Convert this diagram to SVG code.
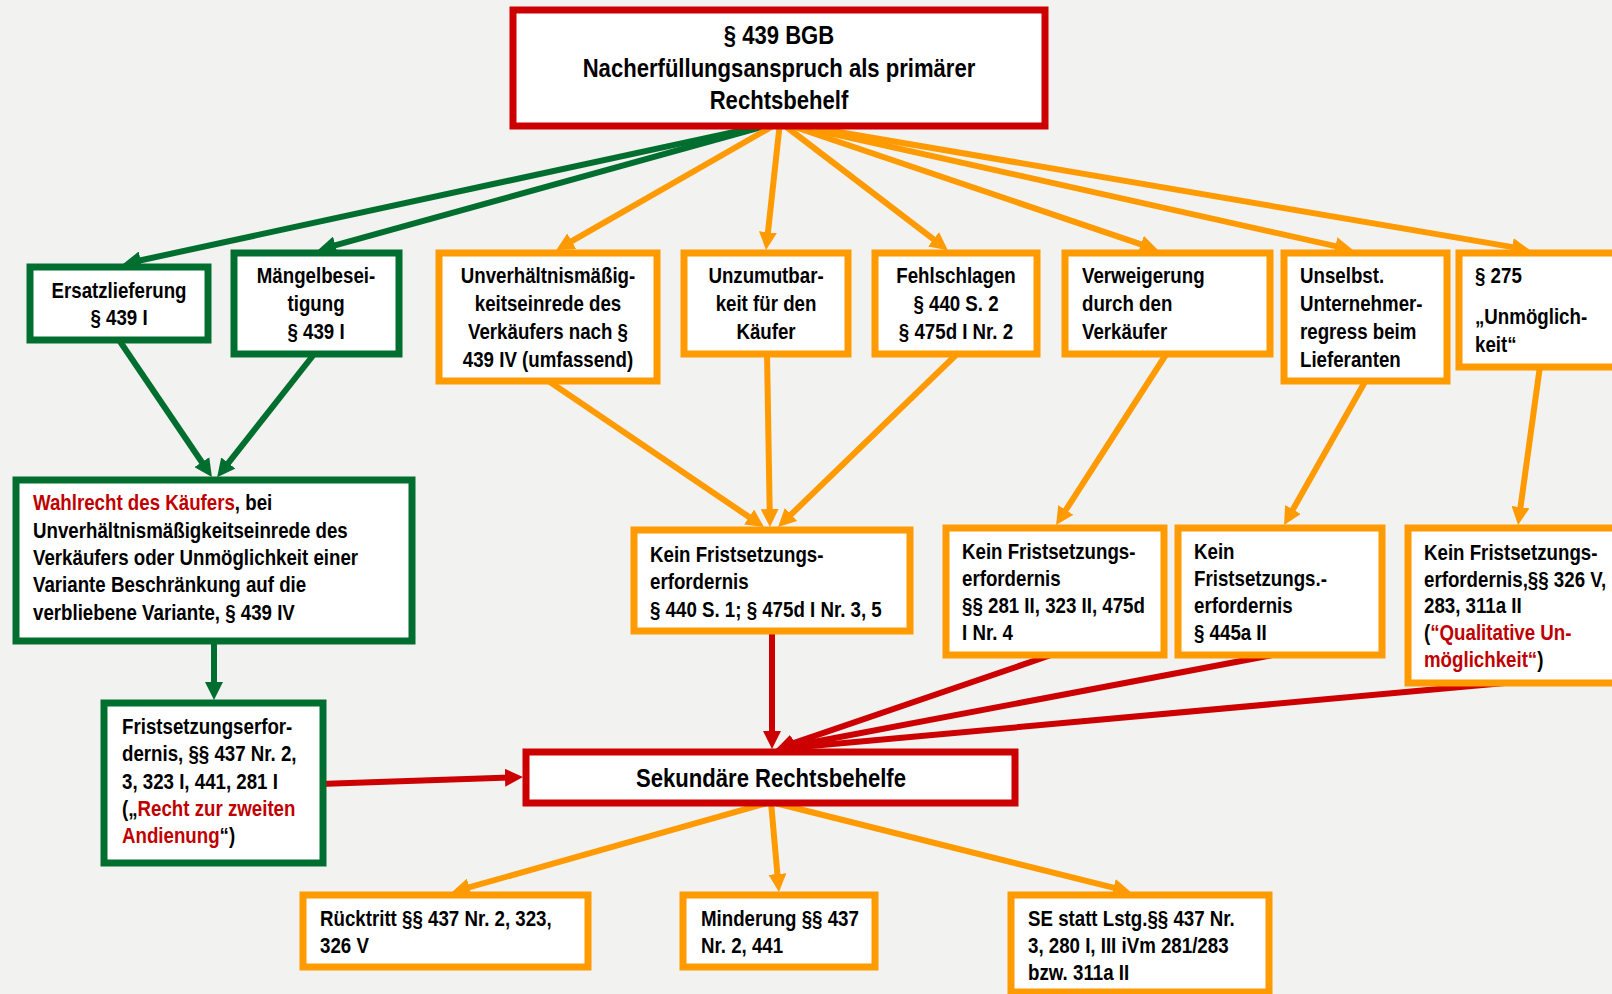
<svg xmlns="http://www.w3.org/2000/svg" width="1612" height="994" viewBox="0 0 1612 994">
<style>
.bg{fill:#F2F2F0}
.box{fill:#FFFFFF;stroke-width:7}
.red{stroke:#CC0000}
.grn{stroke:#006E2E}
.org{stroke:#FF9A00}
.t{font-family:"Liberation Sans",Arial,sans-serif;font-weight:bold;font-size:22px;fill:#000}
.w{font-family:"Liberation Sans",Arial,sans-serif;font-weight:bold;font-size:26px;fill:#000}
.c{text-anchor:middle}
.hl{fill:#C00000}
.ln{fill:none;stroke-width:6}
.lg{stroke:#006E2E;marker-end:url(#ag)}
.lo{stroke:#FF9A00;marker-end:url(#ao)}
.lr{stroke:#CC0000;marker-end:url(#ar)}
</style>
<defs>
<marker id="ag" viewBox="0 0 18 18" refX="8" refY="9" markerWidth="18" markerHeight="18" markerUnits="userSpaceOnUse" orient="auto"><path d="M0,0 L18,9 L0,18 Z" fill="#006E2E"/></marker>
<marker id="ao" viewBox="0 0 18 18" refX="8" refY="9" markerWidth="18" markerHeight="18" markerUnits="userSpaceOnUse" orient="auto"><path d="M0,0 L18,9 L0,18 Z" fill="#FF9A00"/></marker>
<marker id="ar" viewBox="0 0 18 18" refX="8" refY="9" markerWidth="18" markerHeight="18" markerUnits="userSpaceOnUse" orient="auto"><path d="M0,0 L18,9 L0,18 Z" fill="#CC0000"/></marker>
</defs>
<rect class="bg" x="0" y="0" width="1612" height="994"/>
<g id="connectors">
<path class="ln lg" d="M780,122 L132.8,262"/>
<path class="ln lg" d="M780,122 L327.7,247.4"/>
<path class="ln lo" d="M780,122 L564.8,245.2"/>
<path class="ln lo" d="M780,122 L767.1,240.1"/>
<path class="ln lo" d="M780,122 L939.9,244.1"/>
<path class="ln lo" d="M780,122 L1148.5,246.9"/>
<path class="ln lo" d="M780,122 L1343.2,247.9"/>
<path class="ln lo" d="M780,122 L1520.1,248.4"/>
<path class="ln lo" d="M547,380 L755.7,521.5"/>
<path class="ln lo" d="M767,353 L769.8,517"/>
<path class="ln lo" d="M958,353 L785.3,520.1"/>
<path class="ln lo" d="M1167,353 L1061.5,516.7"/>
<path class="ln lo" d="M1366,380 L1289,516.4"/>
<path class="ln lo" d="M1540,366 L1519.4,515.1"/>
<path class="ln lg" d="M119,340 L206.3,468.8"/>
<path class="ln lg" d="M315,353 L223.3,469.3"/>
<path class="ln lg" d="M214,640 L214,690"/>
<path class="ln lr" d="M320,784 L513,777.4"/>
<path class="ln lr" d="M772,630 L772,739"/>
<path class="ln lr" d="M1054,654 L785.5,745.9"/>
<path class="ln lr" d="M1278,654 L785.8,747.2"/>
<path class="ln lr" d="M1516,682 L786,748.2"/>
<path class="ln lo" d="M771,802 L461.7,889.4"/>
<path class="ln lo" d="M771,802 L778.1,882"/>
<path class="ln lo" d="M771,802 L1121.3,889.7"/>
</g>
<g id="n-top">
<rect class="box red" x="513" y="10" width="532" height="116"/>
<text class="w c" transform="translate(779 0) scale(0.85 1)"><tspan x="0" y="44">§ 439 BGB</tspan><tspan x="0" y="77">Nacherfüllungsanspruch als primärer</tspan><tspan x="0" y="109">Rechtsbehelf</tspan></text>
</g>
<g id="n-ersatz">
<rect class="box grn" x="30" y="267" width="178" height="73"/>
<text class="t c" transform="translate(119 0) scale(0.85 1)"><tspan x="0" y="298">Ersatzlieferung</tspan><tspan x="0" y="325">§ 439 I</tspan></text>
</g>
<g id="n-maengel">
<rect class="box grn" x="234" y="253" width="165" height="101"/>
<text class="t c" transform="translate(316 0) scale(0.85 1)"><tspan x="0" y="283">Mängelbesei-</tspan><tspan x="0" y="311">tigung</tspan><tspan x="0" y="339">§ 439 I</tspan></text>
</g>
<g id="n-unverh">
<rect class="box org" x="439" y="253" width="218" height="128"/>
<text class="t c" transform="translate(548 0) scale(0.85 1)"><tspan x="0" y="283">Unverhältnismäßig-</tspan><tspan x="0" y="311">keitseinrede des</tspan><tspan x="0" y="339">Verkäufers nach §</tspan><tspan x="0" y="367">439 IV (umfassend)</tspan></text>
</g>
<g id="n-unzumut">
<rect class="box org" x="684" y="253" width="164" height="101"/>
<text class="t c" transform="translate(766 0) scale(0.85 1)"><tspan x="0" y="283">Unzumutbar-</tspan><tspan x="0" y="311">keit für den</tspan><tspan x="0" y="339">Käufer</tspan></text>
</g>
<g id="n-fehl">
<rect class="box org" x="875" y="253" width="162" height="101"/>
<text class="t c" transform="translate(956 0) scale(0.85 1)"><tspan x="0" y="283">Fehlschlagen</tspan><tspan x="0" y="311">§ 440 S. 2</tspan><tspan x="0" y="339">§ 475d I Nr. 2</tspan></text>
</g>
<g id="n-verweig">
<rect class="box org" x="1065" y="253" width="205" height="101"/>
<text class="t" transform="translate(1082 0) scale(0.85 1)"><tspan x="0" y="283">Verweigerung</tspan><tspan x="0" y="311">durch den</tspan><tspan x="0" y="339">Verkäufer</tspan></text>
</g>
<g id="n-unselbst">
<rect class="box org" x="1284" y="253" width="163" height="128"/>
<text class="t" transform="translate(1300 0) scale(0.85 1)"><tspan x="0" y="283">Unselbst.</tspan><tspan x="0" y="311">Unternehmer-</tspan><tspan x="0" y="339">regress beim</tspan><tspan x="0" y="367">Lieferanten</tspan></text>
</g>
<g id="n-p275">
<rect class="box org" x="1459" y="253" width="163" height="114"/>
<text class="t" transform="translate(1475 0) scale(0.85 1)"><tspan x="0" y="283">§ 275</tspan><tspan x="0" y="324">„Unmöglich-</tspan><tspan x="0" y="352">keit“</tspan></text>
</g>
<g id="n-wahlrecht">
<rect class="box grn" x="16" y="480" width="396" height="161"/>
<text class="t" transform="translate(33 0) scale(0.85 1)"><tspan x="0" y="510"><tspan class="hl">Wahlrecht des Käufers</tspan>, bei</tspan><tspan x="0" y="538">Unverhältnismäßigkeitseinrede des</tspan><tspan x="0" y="565">Verkäufers oder Unmöglichkeit einer</tspan><tspan x="0" y="592">Variante Beschränkung auf die</tspan><tspan x="0" y="620">verbliebene Variante, § 439 IV</tspan></text>
</g>
<g id="n-frist">
<rect class="box grn" x="104" y="703" width="219" height="160"/>
<text class="t" transform="translate(122 0) scale(0.85 1)"><tspan x="0" y="734">Fristsetzungserfor-</tspan><tspan x="0" y="761">dernis, §§ 437 Nr. 2,</tspan><tspan x="0" y="789">3, 323 I, 441, 281 I</tspan><tspan x="0" y="816">(„<tspan class="hl">Recht zur zweiten</tspan></tspan><tspan x="0" y="843"><tspan class="hl">Andienung</tspan>“)</tspan></text>
</g>
<g id="n-kein1">
<rect class="box org" x="634" y="530" width="276" height="101"/>
<text class="t" transform="translate(650 0) scale(0.85 1)"><tspan x="0" y="562">Kein Fristsetzungs-</tspan><tspan x="0" y="589">erfordernis</tspan><tspan x="0" y="617">§ 440 S. 1; § 475d I Nr. 3, 5</tspan></text>
</g>
<g id="n-kein2">
<rect class="box org" x="946" y="528" width="218" height="127"/>
<text class="t" transform="translate(962 0) scale(0.85 1)"><tspan x="0" y="559">Kein Fristsetzungs-</tspan><tspan x="0" y="586">erfordernis</tspan><tspan x="0" y="613">§§ 281 II, 323 II, 475d</tspan><tspan x="0" y="640">I Nr. 4</tspan></text>
</g>
<g id="n-kein3">
<rect class="box org" x="1178" y="528" width="204" height="127"/>
<text class="t" transform="translate(1194 0) scale(0.85 1)"><tspan x="0" y="559">Kein</tspan><tspan x="0" y="586">Fristsetzungs.-</tspan><tspan x="0" y="613">erfordernis</tspan><tspan x="0" y="640">§ 445a II</tspan></text>
</g>
<g id="n-kein4">
<rect class="box org" x="1408" y="528" width="214" height="155"/>
<text class="t" transform="translate(1424 0) scale(0.85 1)"><tspan x="0" y="560">Kein Fristsetzungs-</tspan><tspan x="0" y="587">erfordernis,§§ 326 V,</tspan><tspan x="0" y="613">283, 311a II</tspan><tspan x="0" y="640">(<tspan class="hl">“Qualitative Un-</tspan></tspan><tspan x="0" y="667"><tspan class="hl">möglichkeit“</tspan>)</tspan></text>
</g>
<g id="n-sekundaer">
<rect class="box red" x="526" y="752" width="489" height="51"/>
<text class="w c" transform="translate(771 0) scale(0.85 1)" x="0" y="787">Sekundäre Rechtsbehelfe</text>
</g>
<g id="n-ruecktritt">
<rect class="box org" x="303" y="895" width="285" height="72"/>
<text class="t" transform="translate(320 0) scale(0.85 1)"><tspan x="0" y="926">Rücktritt §§ 437 Nr. 2, 323,</tspan><tspan x="0" y="953">326 V</tspan></text>
</g>
<g id="n-minderung">
<rect class="box org" x="683" y="895" width="192" height="72"/>
<text class="t" transform="translate(701 0) scale(0.85 1)"><tspan x="0" y="926">Minderung §§ 437</tspan><tspan x="0" y="953">Nr. 2, 441</tspan></text>
</g>
<g id="n-se">
<rect class="box org" x="1011" y="895" width="258" height="97"/>
<text class="t" transform="translate(1028 0) scale(0.85 1)"><tspan x="0" y="926">SE statt Lstg.§§ 437 Nr.</tspan><tspan x="0" y="953">3, 280 I, III iVm 281/283</tspan><tspan x="0" y="980">bzw. 311a II</tspan></text>
</g>
</svg>
